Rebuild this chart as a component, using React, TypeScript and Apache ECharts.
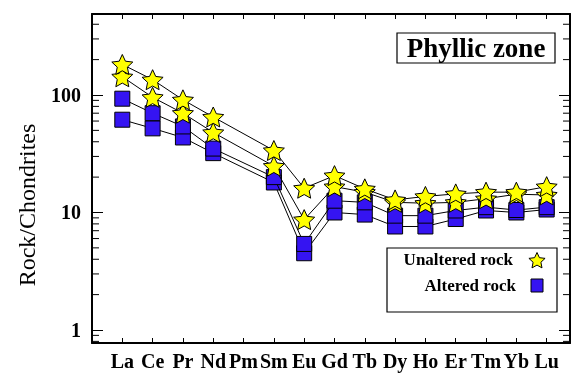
import React, { useEffect, useRef } from "react";
import * as echarts from "echarts";

const elements = ["La", "Ce", "Pr", "Nd", "Pm", "Sm", "Eu", "Gd", "Tb", "Dy", "Ho", "Er", "Tm", "Yb", "Lu"];
const unalteredA = [182, 135, 91, 65, null, 33.7, 16.1, 20.6, 15.9, 12.8, 13.7, 14.4, 14.9, 14.9, 16.6];
const unalteredB = [143, 95.6, 70, 48, null, 24.8, 8.7, 16.6, 14.9, 12.2, 12.0, 12.2, 13.1, 14.3, 14.1];
const alteredC = [93, 70, 54, 35, null, 20, 5.4, 12.6, 12.2, 9.4, 9.4, 10.4, 11.1, 10.5, 11.1];
const alteredD = [61.6, 52, 43.5, 32, null, 18, 4.5, 10.0, 9.6, 7.6, 7.6, 8.8, 10.4, 10.0, 10.6];
const minorTicks = [0.8, 0.9, 2, 3, 4, 5, 6, 7, 8, 9, 20, 30, 40, 50, 60, 70, 80, 90, 200, 300, 400];
const yLabels = [1, 10, 100];
const yMin = 0.775;
const yMax = 489;
const xMin = 0;
const xMax = 15.77;

const FONT = "Liberation Serif";

function starPoints(cx: number, cy: number, R: number, r: number): number[][] {
  const pts: number[][] = [];
  for (let i = 0; i < 10; i++) {
    const a = -Math.PI / 2 + (i * Math.PI) / 5;
    const rad = i % 2 === 0 ? R : r;
    pts.push([cx + rad * Math.cos(a), cy + rad * Math.sin(a)]);
  }
  return pts;
}

function starPath(): string {
  const pts = starPoints(0, 0, 10, 4.8);
  return "path://" + pts.map((p, i) => (i === 0 ? "M" : "L") + p[0].toFixed(3) + " " + p[1].toFixed(3)).join(" ") + " Z";
}

function toData(vals: (number | null)[]) {
  const out: number[][] = [];
  vals.forEach((v, i) => {
    if (v !== null) out.push([i + 1, v]);
  });
  return out;
}

export default function App() {
  const ref = useRef<HTMLDivElement>(null);
  useEffect(() => {
    if (!ref.current) return;
    const chart = echarts.init(ref.current, null, { renderer: "svg" });
    const star = starPath();
    const yLabel = (v: number) => {
      const hit = yLabels.find((d) => Math.abs(v - d) / d < 1e-6);
      return hit === undefined ? "" : String(hit);
    };

    const lineSeries = (name: string, vals: (number | null)[], symbol: string, size: number, color: string, z: number) => ({
      name,
      type: "line",
      data: toData(vals),
      symbol,
      symbolSize: size,
      symbolKeepAspect: true,
      z,
      lineStyle: { color: "#000", width: 1 },
      itemStyle: { color, borderColor: "#000", borderWidth: 1 },
      emphasis: { disabled: true },
    });

    const axisLine = { show: true, onZero: false, lineStyle: { color: "#000", width: 2 } };

    const option: any = {
      animation: false,
      grid: { left: 92, right: 2, top: 14, bottom: 31, containLabel: false, outerBoundsMode: "none" },
      xAxis: [
        {
          type: "value",
          min: xMin,
          max: xMax,
          interval: 1,
          position: "bottom",
          splitLine: { show: false },
          axisLine,
          axisTick: { show: true, inside: true, length: 5, lineStyle: { color: "#000", width: 1 } },
          axisLabel: {
            margin: 8,
            color: "#000",
            fontFamily: FONT,
            fontWeight: "bold",
            fontSize: 20,
            showMinLabel: false,
            showMaxLabel: false,
            formatter: (v: number) => {
              const i = Math.round(v);
              return Math.abs(v - i) < 1e-6 && i >= 1 && i <= elements.length ? elements[i - 1] : "";
            },
          },
        },
        {
          type: "value",
          min: xMin,
          max: xMax,
          interval: 1,
          position: "top",
          splitLine: { show: false },
          axisLine,
          axisTick: { show: true, inside: true, length: 5, lineStyle: { color: "#000", width: 1 } },
          axisLabel: { show: false },
        },
      ],
      yAxis: [
        {
          type: "log",
          logBase: 10,
          min: yMin,
          max: yMax,
          position: "left",
          splitLine: { show: false },
          minorTick: { show: false },
          axisLine,
          axisTick: { show: true, inside: true, length: 11, lineStyle: { color: "#000", width: 1 } },
          axisLabel: {
            margin: 11,
            color: "#000",
            fontFamily: FONT,
            fontWeight: "bold",
            fontSize: 20,
            showMinLabel: false,
            showMaxLabel: false,
            formatter: yLabel,
          },
        },
        {
          type: "log",
          logBase: 10,
          min: yMin,
          max: yMax,
          position: "right",
          splitLine: { show: false },
          axisLine,
          axisTick: { show: true, inside: true, length: 11, lineStyle: { color: "#000", width: 1 } },
          axisLabel: { show: false },
        },
      ],
      series: [
        {
          type: "custom",
          silent: true,
          clip: false,
          xAxisIndex: 0,
          yAxisIndex: 0,
          data: minorTicks.map((v) => [0, v]),
          renderItem: (params: any, api: any) => {
            const v = api.value(1);
            const l = api.coord([xMin, v]);
            const r = api.coord([xMax, v]);
            return {
              type: "group",
              children: [
                { type: "line", shape: { x1: l[0], y1: l[1], x2: l[0] + 7, y2: l[1] }, style: { stroke: "#000", lineWidth: 1 } },
                { type: "line", shape: { x1: r[0] - 7, y1: r[1], x2: r[0], y2: r[1] }, style: { stroke: "#000", lineWidth: 1 } },
              ],
            };
          },
        },
        lineSeries("Altered rock", alteredD, "rect", 15, "#3514f2", 2),
        lineSeries("Altered rock", alteredC, "rect", 15, "#3514f2", 3),
        lineSeries("Unaltered rock", unalteredB, star, 21, "#ffff00", 4),
        lineSeries("Unaltered rock", unalteredA, star, 21, "#ffff00", 5),
      ],
      graphic: [
        {
          type: "text",
          x: 27,
          y: 205,
          rotation: Math.PI / 2,
          style: { text: "Rock/Chondrites", fontFamily: FONT, fontSize: 24, fill: "#000", align: "center", verticalAlign: "middle" },
        },
        {
          type: "rect",
          shape: { x: 397, y: 33, width: 158, height: 30 },
          style: { fill: "#fff", stroke: "#000", lineWidth: 1.2 },
          z: 10,
        },
        {
          type: "text",
          x: 476,
          y: 48,
          style: { text: "Phyllic zone", fontFamily: FONT, fontWeight: "bold", fontSize: 27, fill: "#000", align: "center", verticalAlign: "middle" },
          z: 11,
        },
        {
          type: "rect",
          shape: { x: 387, y: 248, width: 170, height: 64 },
          style: { fill: "#fff", stroke: "#000", lineWidth: 1.2 },
          z: 10,
        },
        {
          type: "text",
          x: 513,
          y: 259,
          style: { text: "Unaltered rock", fontFamily: FONT, fontWeight: "bold", fontSize: 17, fill: "#000", align: "right", verticalAlign: "middle" },
          z: 11,
        },
        {
          type: "polygon",
          shape: { points: starPoints(537, 261, 8.5, 4.1) },
          style: { fill: "#ffff00", stroke: "#000", lineWidth: 1 },
          z: 11,
        },
        {
          type: "text",
          x: 516,
          y: 285,
          style: { text: "Altered rock", fontFamily: FONT, fontWeight: "bold", fontSize: 17, fill: "#000", align: "right", verticalAlign: "middle" },
          z: 11,
        },
        {
          type: "rect",
          shape: { x: 531, y: 279, width: 12, height: 13 },
          style: { fill: "#3514f2", stroke: "#000", lineWidth: 1 },
          z: 11,
        },
      ],
    };
    chart.setOption(option);
    return () => chart.dispose();
  }, []);
  return <div ref={ref} style={{ position: "fixed", left: 0, top: 0, width: 572, height: 374 }} />;
}
